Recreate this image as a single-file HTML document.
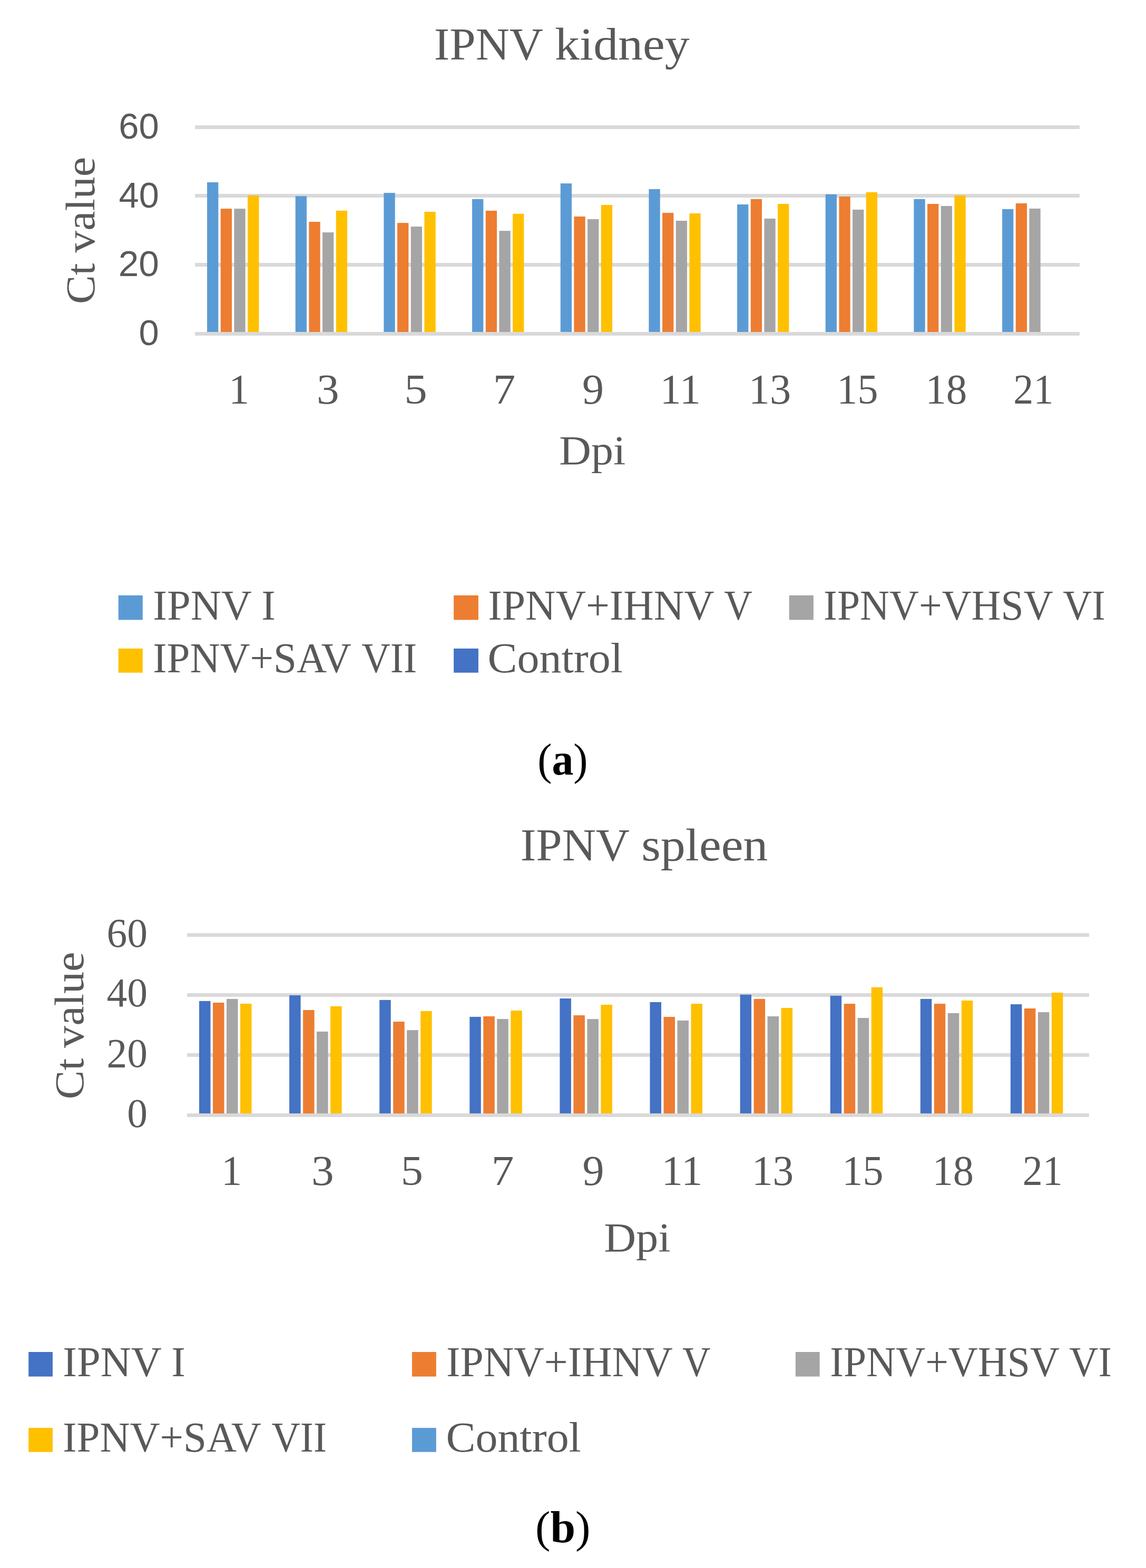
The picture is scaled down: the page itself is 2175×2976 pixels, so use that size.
<!DOCTYPE html>
<html><head><meta charset="utf-8"><title>IPNV Ct values</title>
<style>html,body{margin:0;padding:0;background:#fff}svg{display:block}</style></head>
<body>
<svg width="2175" height="2976" viewBox="0 0 2175 2976">
<rect width="2175" height="2976" fill="#fff"/>
<text x="823.69" y="112.60" font-family="'Liberation Serif', serif" font-size="85.80" fill="#595959" textLength="207.29" lengthAdjust="spacingAndGlyphs">IPNV</text>
<text x="1053.12" y="112.60" font-family="'Liberation Serif', serif" font-size="85.80" fill="#595959" textLength="255.57" lengthAdjust="spacingAndGlyphs">kidney</text>
<rect x="370.00" y="238.00" width="1679.00" height="7.00" fill="#D9D9D9"/>
<rect x="370.00" y="368.00" width="1679.00" height="7.00" fill="#D9D9D9"/>
<rect x="370.00" y="499.00" width="1679.00" height="7.00" fill="#D9D9D9"/>
<rect x="393.06" y="346.00" width="21.30" height="287.50" fill="#5B9BD5"/>
<rect x="418.73" y="396.10" width="21.30" height="237.40" fill="#ED7D31"/>
<rect x="444.40" y="396.10" width="21.30" height="237.40" fill="#A5A5A5"/>
<rect x="470.07" y="370.90" width="21.30" height="262.60" fill="#FFC000"/>
<rect x="560.73" y="372.20" width="21.30" height="261.30" fill="#5B9BD5"/>
<rect x="586.40" y="421.00" width="21.30" height="212.50" fill="#ED7D31"/>
<rect x="612.07" y="441.10" width="21.30" height="192.40" fill="#A5A5A5"/>
<rect x="637.74" y="399.90" width="21.30" height="233.60" fill="#FFC000"/>
<rect x="728.40" y="366.10" width="21.30" height="267.40" fill="#5B9BD5"/>
<rect x="754.07" y="423.10" width="21.30" height="210.40" fill="#ED7D31"/>
<rect x="779.74" y="430.00" width="21.30" height="203.50" fill="#A5A5A5"/>
<rect x="805.41" y="402.00" width="21.30" height="231.50" fill="#FFC000"/>
<rect x="896.07" y="377.80" width="21.30" height="255.70" fill="#5B9BD5"/>
<rect x="921.74" y="399.90" width="21.30" height="233.60" fill="#ED7D31"/>
<rect x="947.41" y="438.10" width="21.30" height="195.40" fill="#A5A5A5"/>
<rect x="973.08" y="405.80" width="21.30" height="227.70" fill="#FFC000"/>
<rect x="1063.74" y="348.10" width="21.30" height="285.40" fill="#5B9BD5"/>
<rect x="1089.41" y="410.90" width="21.30" height="222.60" fill="#ED7D31"/>
<rect x="1115.08" y="415.90" width="21.30" height="217.60" fill="#A5A5A5"/>
<rect x="1140.75" y="389.00" width="21.30" height="244.50" fill="#FFC000"/>
<rect x="1231.41" y="359.00" width="21.30" height="274.50" fill="#5B9BD5"/>
<rect x="1257.08" y="404.00" width="21.30" height="229.50" fill="#ED7D31"/>
<rect x="1282.75" y="419.00" width="21.30" height="214.50" fill="#A5A5A5"/>
<rect x="1308.42" y="405.00" width="21.30" height="228.50" fill="#FFC000"/>
<rect x="1399.08" y="388.00" width="21.30" height="245.50" fill="#5B9BD5"/>
<rect x="1424.75" y="377.80" width="21.30" height="255.70" fill="#ED7D31"/>
<rect x="1450.42" y="414.90" width="21.30" height="218.60" fill="#A5A5A5"/>
<rect x="1476.09" y="387.00" width="21.30" height="246.50" fill="#FFC000"/>
<rect x="1566.75" y="368.90" width="21.30" height="264.60" fill="#5B9BD5"/>
<rect x="1592.42" y="373.00" width="21.30" height="260.50" fill="#ED7D31"/>
<rect x="1618.09" y="397.90" width="21.30" height="235.60" fill="#A5A5A5"/>
<rect x="1643.76" y="364.80" width="21.30" height="268.70" fill="#FFC000"/>
<rect x="1734.42" y="377.80" width="21.30" height="255.70" fill="#5B9BD5"/>
<rect x="1760.09" y="387.00" width="21.30" height="246.50" fill="#ED7D31"/>
<rect x="1785.76" y="391.00" width="21.30" height="242.50" fill="#A5A5A5"/>
<rect x="1811.43" y="370.90" width="21.30" height="262.60" fill="#FFC000"/>
<rect x="1902.09" y="396.90" width="21.30" height="236.60" fill="#5B9BD5"/>
<rect x="1927.76" y="385.90" width="21.30" height="247.60" fill="#ED7D31"/>
<rect x="1953.43" y="395.90" width="21.30" height="237.60" fill="#A5A5A5"/>
<rect x="370.00" y="630.00" width="1679.00" height="7.00" fill="#D9D9D9"/>
<text x="225.28" y="263.01" font-family="'Liberation Sans', sans-serif" font-size="68.83" fill="#595959">60</text>
<text x="225.58" y="393.71" font-family="'Liberation Sans', sans-serif" font-size="68.55" fill="#595959">40</text>
<text x="224.67" y="524.11" font-family="'Liberation Sans', sans-serif" font-size="69.40" fill="#595959">20</text>
<text x="263.55" y="654.81" font-family="'Liberation Sans', sans-serif" font-size="68.69" fill="#595959">0</text>
<text transform="translate(179.20,576.98) rotate(-90)" x="0" y="0" font-family="'Liberation Serif', serif" font-size="78.00" fill="#595959" textLength="77.48" lengthAdjust="spacingAndGlyphs">Ct</text>
<text transform="translate(179.20,479.80) rotate(-90)" x="0" y="0" font-family="'Liberation Serif', serif" font-size="78.00" fill="#595959" textLength="181.89" lengthAdjust="spacingAndGlyphs">value</text>
<text x="434.30" y="766.40" font-family="'Liberation Serif', serif" font-size="80.50" fill="#595959" textLength="38.87" lengthAdjust="spacingAndGlyphs">1</text>
<text x="600.95" y="766.40" font-family="'Liberation Serif', serif" font-size="80.50" fill="#595959" textLength="42.67" lengthAdjust="spacingAndGlyphs">3</text>
<text x="767.19" y="766.40" font-family="'Liberation Serif', serif" font-size="80.50" fill="#595959" textLength="43.60" lengthAdjust="spacingAndGlyphs">5</text>
<text x="935.88" y="766.40" font-family="'Liberation Serif', serif" font-size="80.50" fill="#595959" textLength="42.47" lengthAdjust="spacingAndGlyphs">7</text>
<text x="1104.93" y="766.40" font-family="'Liberation Serif', serif" font-size="80.50" fill="#595959" textLength="41.05" lengthAdjust="spacingAndGlyphs">9</text>
<text x="1252.55" y="766.40" font-family="'Liberation Serif', serif" font-size="80.50" fill="#595959" textLength="77.62" lengthAdjust="spacingAndGlyphs">11</text>
<text x="1420.76" y="766.40" font-family="'Liberation Serif', serif" font-size="80.50" fill="#595959" textLength="80.46" lengthAdjust="spacingAndGlyphs">13</text>
<text x="1588.36" y="766.40" font-family="'Liberation Serif', serif" font-size="80.50" fill="#595959" textLength="78.17" lengthAdjust="spacingAndGlyphs">15</text>
<text x="1756.27" y="766.40" font-family="'Liberation Serif', serif" font-size="80.50" fill="#595959" textLength="79.20" lengthAdjust="spacingAndGlyphs">18</text>
<text x="1923.37" y="766.40" font-family="'Liberation Serif', serif" font-size="80.50" fill="#595959" textLength="76.20" lengthAdjust="spacingAndGlyphs">21</text>
<text x="1061.38" y="880.70" font-family="'Liberation Serif', serif" font-size="79.20" fill="#595959" textLength="126.10" lengthAdjust="spacingAndGlyphs">Dpi</text>
<rect x="224.70" y="1130.00" width="46.10" height="46.50" fill="#5B9BD5"/>
<text x="290.19" y="1176.00" font-family="'Liberation Serif', serif" font-size="79.40" fill="#595959" textLength="187.60" lengthAdjust="spacingAndGlyphs">IPNV</text>
<text x="496.20" y="1176.00" font-family="'Liberation Serif', serif" font-size="79.40" fill="#595959" textLength="26.64" lengthAdjust="spacingAndGlyphs">I</text>
<rect x="861.10" y="1130.00" width="46.80" height="46.50" fill="#ED7D31"/>
<text x="926.21" y="1176.00" font-family="'Liberation Serif', serif" font-size="79.40" fill="#595959" textLength="429.64" lengthAdjust="spacingAndGlyphs">IPNV+IHNV</text>
<text x="1374.26" y="1176.00" font-family="'Liberation Serif', serif" font-size="79.40" fill="#595959" textLength="53.65" lengthAdjust="spacingAndGlyphs">V</text>
<rect x="1497.70" y="1130.00" width="46.20" height="46.50" fill="#A5A5A5"/>
<text x="1563.09" y="1176.00" font-family="'Liberation Serif', serif" font-size="79.40" fill="#595959" textLength="435.60" lengthAdjust="spacingAndGlyphs">IPNV+VHSV</text>
<text x="2017.14" y="1176.00" font-family="'Liberation Serif', serif" font-size="79.40" fill="#595959" textLength="80.55" lengthAdjust="spacingAndGlyphs">VI</text>
<rect x="224.70" y="1230.90" width="46.10" height="45.80" fill="#FFC000"/>
<text x="290.24" y="1276.20" font-family="'Liberation Serif', serif" font-size="79.40" fill="#595959" textLength="376.68" lengthAdjust="spacingAndGlyphs">IPNV+SAV</text>
<text x="686.24" y="1276.20" font-family="'Liberation Serif', serif" font-size="79.40" fill="#595959" textLength="104.96" lengthAdjust="spacingAndGlyphs">VII</text>
<rect x="861.10" y="1230.90" width="46.80" height="45.80" fill="#4472C4"/>
<text x="925.64" y="1276.20" font-family="'Liberation Serif', serif" font-size="79.40" fill="#595959" textLength="256.49" lengthAdjust="spacingAndGlyphs">Control</text>
<text x="987.79" y="1632.80" font-family="'Liberation Serif', serif" font-size="85.80" fill="#595959" textLength="207.19" lengthAdjust="spacingAndGlyphs">IPNV</text>
<text x="1217.24" y="1632.80" font-family="'Liberation Serif', serif" font-size="85.80" fill="#595959" textLength="240.14" lengthAdjust="spacingAndGlyphs">spleen</text>
<rect x="355.00" y="1771.20" width="1712.00" height="6.80" fill="#D9D9D9"/>
<rect x="355.00" y="1885.10" width="1712.00" height="6.80" fill="#D9D9D9"/>
<rect x="355.00" y="1999.00" width="1712.00" height="6.80" fill="#D9D9D9"/>
<rect x="378.00" y="1899.90" width="21.50" height="216.60" fill="#4472C4"/>
<rect x="404.00" y="1903.00" width="21.50" height="213.50" fill="#ED7D31"/>
<rect x="430.00" y="1895.90" width="21.50" height="220.60" fill="#A5A5A5"/>
<rect x="456.00" y="1905.00" width="21.50" height="211.50" fill="#FFC000"/>
<rect x="549.10" y="1889.00" width="21.50" height="227.50" fill="#4472C4"/>
<rect x="575.10" y="1917.00" width="21.50" height="199.50" fill="#ED7D31"/>
<rect x="601.10" y="1957.90" width="21.50" height="158.60" fill="#A5A5A5"/>
<rect x="627.10" y="1909.80" width="21.50" height="206.70" fill="#FFC000"/>
<rect x="720.20" y="1897.90" width="21.50" height="218.60" fill="#4472C4"/>
<rect x="746.20" y="1939.10" width="21.50" height="177.40" fill="#ED7D31"/>
<rect x="772.20" y="1955.10" width="21.50" height="161.40" fill="#A5A5A5"/>
<rect x="798.20" y="1919.00" width="21.50" height="197.50" fill="#FFC000"/>
<rect x="891.30" y="1929.90" width="21.50" height="186.60" fill="#4472C4"/>
<rect x="917.30" y="1928.90" width="21.50" height="187.60" fill="#ED7D31"/>
<rect x="943.30" y="1934.00" width="21.50" height="182.50" fill="#A5A5A5"/>
<rect x="969.30" y="1918.00" width="21.50" height="198.50" fill="#FFC000"/>
<rect x="1062.40" y="1895.00" width="21.50" height="221.50" fill="#4472C4"/>
<rect x="1088.40" y="1927.00" width="21.50" height="189.50" fill="#ED7D31"/>
<rect x="1114.40" y="1934.10" width="21.50" height="182.40" fill="#A5A5A5"/>
<rect x="1140.40" y="1906.90" width="21.50" height="209.60" fill="#FFC000"/>
<rect x="1233.50" y="1902.00" width="21.50" height="214.50" fill="#4472C4"/>
<rect x="1259.50" y="1930.00" width="21.50" height="186.50" fill="#ED7D31"/>
<rect x="1285.50" y="1936.90" width="21.50" height="179.60" fill="#A5A5A5"/>
<rect x="1311.50" y="1905.10" width="21.50" height="211.40" fill="#FFC000"/>
<rect x="1404.60" y="1887.80" width="21.50" height="228.70" fill="#4472C4"/>
<rect x="1430.60" y="1895.90" width="21.50" height="220.60" fill="#ED7D31"/>
<rect x="1456.60" y="1929.00" width="21.50" height="187.50" fill="#A5A5A5"/>
<rect x="1482.60" y="1913.00" width="21.50" height="203.50" fill="#FFC000"/>
<rect x="1575.70" y="1889.80" width="21.50" height="226.70" fill="#4472C4"/>
<rect x="1601.70" y="1905.10" width="21.50" height="211.40" fill="#ED7D31"/>
<rect x="1627.70" y="1932.00" width="21.50" height="184.50" fill="#A5A5A5"/>
<rect x="1653.70" y="1873.80" width="21.50" height="242.70" fill="#FFC000"/>
<rect x="1746.80" y="1895.90" width="21.50" height="220.60" fill="#4472C4"/>
<rect x="1772.80" y="1905.10" width="21.50" height="211.40" fill="#ED7D31"/>
<rect x="1798.80" y="1922.90" width="21.50" height="193.60" fill="#A5A5A5"/>
<rect x="1824.80" y="1899.00" width="21.50" height="217.50" fill="#FFC000"/>
<rect x="1917.90" y="1906.10" width="21.50" height="210.40" fill="#4472C4"/>
<rect x="1943.90" y="1914.00" width="21.50" height="202.50" fill="#ED7D31"/>
<rect x="1969.90" y="1921.10" width="21.50" height="195.40" fill="#A5A5A5"/>
<rect x="1995.90" y="1884.00" width="21.50" height="232.50" fill="#FFC000"/>
<rect x="355.00" y="2113.20" width="1712.00" height="6.80" fill="#D9D9D9"/>
<text x="202.42" y="1796.93" font-family="'Liberation Serif', serif" font-size="77.48" fill="#595959">60</text>
<text x="202.42" y="1910.43" font-family="'Liberation Serif', serif" font-size="77.48" fill="#595959">40</text>
<text x="202.57" y="2024.73" font-family="'Liberation Serif', serif" font-size="77.33" fill="#595959">20</text>
<text x="241.23" y="2138.63" font-family="'Liberation Serif', serif" font-size="77.33" fill="#595959">0</text>
<text transform="translate(157.80,2086.50) rotate(-90)" x="0" y="0" font-family="'Liberation Serif', serif" font-size="78.00" fill="#595959" textLength="78.00" lengthAdjust="spacingAndGlyphs">Ct</text>
<text transform="translate(157.80,1988.90) rotate(-90)" x="0" y="0" font-family="'Liberation Serif', serif" font-size="78.00" fill="#595959" textLength="182.39" lengthAdjust="spacingAndGlyphs">value</text>
<text x="420.02" y="2249.20" font-family="'Liberation Serif', serif" font-size="80.50" fill="#595959" textLength="39.29" lengthAdjust="spacingAndGlyphs">1</text>
<text x="590.95" y="2249.20" font-family="'Liberation Serif', serif" font-size="80.50" fill="#595959" textLength="42.67" lengthAdjust="spacingAndGlyphs">3</text>
<text x="760.84" y="2249.20" font-family="'Liberation Serif', serif" font-size="80.50" fill="#595959" textLength="42.24" lengthAdjust="spacingAndGlyphs">5</text>
<text x="932.86" y="2249.20" font-family="'Liberation Serif', serif" font-size="80.50" fill="#595959" textLength="42.59" lengthAdjust="spacingAndGlyphs">7</text>
<text x="1105.43" y="2249.20" font-family="'Liberation Serif', serif" font-size="80.50" fill="#595959" textLength="41.05" lengthAdjust="spacingAndGlyphs">9</text>
<text x="1255.51" y="2249.20" font-family="'Liberation Serif', serif" font-size="80.50" fill="#595959" textLength="77.98" lengthAdjust="spacingAndGlyphs">11</text>
<text x="1426.96" y="2249.20" font-family="'Liberation Serif', serif" font-size="80.50" fill="#595959" textLength="79.31" lengthAdjust="spacingAndGlyphs">13</text>
<text x="1598.36" y="2249.20" font-family="'Liberation Serif', serif" font-size="80.50" fill="#595959" textLength="78.17" lengthAdjust="spacingAndGlyphs">15</text>
<text x="1769.52" y="2249.20" font-family="'Liberation Serif', serif" font-size="80.50" fill="#595959" textLength="78.63" lengthAdjust="spacingAndGlyphs">18</text>
<text x="1940.78" y="2249.20" font-family="'Liberation Serif', serif" font-size="80.50" fill="#595959" textLength="75.98" lengthAdjust="spacingAndGlyphs">21</text>
<text x="1146.17" y="2374.70" font-family="'Liberation Serif', serif" font-size="79.20" fill="#595959" textLength="126.52" lengthAdjust="spacingAndGlyphs">Dpi</text>
<rect x="54.20" y="2566.00" width="45.70" height="46.60" fill="#4472C4"/>
<text x="119.19" y="2612.00" font-family="'Liberation Serif', serif" font-size="79.40" fill="#595959" textLength="187.60" lengthAdjust="spacingAndGlyphs">IPNV</text>
<text x="325.20" y="2612.00" font-family="'Liberation Serif', serif" font-size="79.40" fill="#595959" textLength="26.64" lengthAdjust="spacingAndGlyphs">I</text>
<rect x="782.00" y="2566.00" width="45.80" height="46.60" fill="#ED7D31"/>
<text x="847.01" y="2612.00" font-family="'Liberation Serif', serif" font-size="79.40" fill="#595959" textLength="429.64" lengthAdjust="spacingAndGlyphs">IPNV+IHNV</text>
<text x="1295.06" y="2612.00" font-family="'Liberation Serif', serif" font-size="79.40" fill="#595959" textLength="53.65" lengthAdjust="spacingAndGlyphs">V</text>
<rect x="1509.90" y="2566.00" width="45.80" height="46.60" fill="#A5A5A5"/>
<text x="1575.29" y="2612.00" font-family="'Liberation Serif', serif" font-size="79.40" fill="#595959" textLength="435.60" lengthAdjust="spacingAndGlyphs">IPNV+VHSV</text>
<text x="2029.34" y="2612.00" font-family="'Liberation Serif', serif" font-size="79.40" fill="#595959" textLength="80.55" lengthAdjust="spacingAndGlyphs">VI</text>
<rect x="54.20" y="2710.10" width="45.70" height="45.70" fill="#FFC000"/>
<text x="119.24" y="2755.20" font-family="'Liberation Serif', serif" font-size="79.40" fill="#595959" textLength="376.68" lengthAdjust="spacingAndGlyphs">IPNV+SAV</text>
<text x="515.24" y="2755.20" font-family="'Liberation Serif', serif" font-size="79.40" fill="#595959" textLength="104.96" lengthAdjust="spacingAndGlyphs">VII</text>
<rect x="782.00" y="2710.10" width="45.80" height="45.70" fill="#5B9BD5"/>
<text x="846.44" y="2755.20" font-family="'Liberation Serif', serif" font-size="79.40" fill="#595959" textLength="256.49" lengthAdjust="spacingAndGlyphs">Control</text>
<text x="1020.22" y="1470.00" font-family="'Liberation Serif', serif" font-size="84.00" fill="#000" textLength="95.40" lengthAdjust="spacingAndGlyphs">(<tspan font-weight="bold">a</tspan>)</text>
<text x="1015.94" y="2927.00" font-family="'Liberation Serif', serif" font-size="84.00" fill="#000" textLength="104.74" lengthAdjust="spacingAndGlyphs">(<tspan font-weight="bold">b</tspan>)</text>
</svg>
</body></html>
